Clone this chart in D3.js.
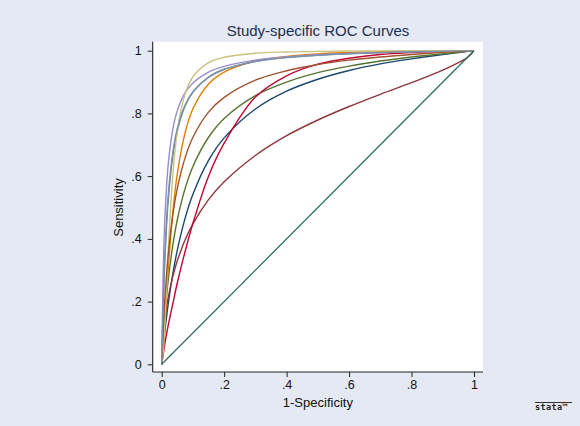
<!DOCTYPE html>
<html>
<head>
<meta charset="utf-8">
<script src="https://cdn.jsdelivr.net/npm/d3@7"></script>
<style>
  html, body { margin: 0; padding: 0; background: #e5e9f3; }
  svg { display: block; }
</style>
</head>
<body>
<svg id="chart" width="580" height="426"></svg>
<script>
// ---- data ----
const fpr = [0, 0.005, 0.01, 0.02, 0.035, 0.05, 0.075, 0.1, 0.15, 0.2, 0.3, 0.4, 0.5, 0.6, 0.7, 0.8, 0.9, 0.95, 0.98, 1];

const study1 = [0, 0.056, 0.104, 0.186, 0.285, 0.364, 0.466, 0.542, 0.650, 0.722, 0.814, 0.871, 0.909, 0.937, 0.958, 0.974, 0.988, 0.994, 0.998, 1];
const study2 = [0, 0.093, 0.141, 0.208, 0.278, 0.330, 0.397, 0.448, 0.525, 0.582, 0.666, 0.729, 0.779, 0.822, 0.861, 0.898, 0.938, 0.962, 0.979, 1];
const study3 = [0, 0.088, 0.155, 0.261, 0.376, 0.461, 0.561, 0.631, 0.724, 0.784, 0.857, 0.900, 0.930, 0.951, 0.967, 0.980, 0.990, 0.995, 0.998, 1];
const study4 = [0, 0.055, 0.133, 0.291, 0.479, 0.608, 0.739, 0.815, 0.894, 0.932, 0.967, 0.982, 0.990, 0.994, 0.997, 0.998, 0.9995, 0.9998, 0.9999, 1];
const study5 = [0, 0.184, 0.325, 0.510, 0.660, 0.745, 0.824, 0.868, 0.916, 0.941, 0.966, 0.979, 0.986, 0.991, 0.994, 0.997, 0.999, 0.9994, 0.9998, 1];
const study6 = [0, 0.032, 0.065, 0.120, 0.190, 0.260, 0.360, 0.450, 0.600, 0.705, 0.852, 0.920, 0.957, 0.976, 0.988, 0.994, 0.998, 0.999, 0.9997, 1];
const study7 = [0, 0.303, 0.461, 0.628, 0.747, 0.809, 0.866, 0.897, 0.932, 0.950, 0.970, 0.980, 0.987, 0.991, 0.994, 0.9965, 0.998, 0.9992, 0.9997, 1];
const study8 = [0, 0.040, 0.129, 0.344, 0.596, 0.743, 0.863, 0.917, 0.962, 0.979, 0.992, 0.996, 0.998, 0.999, 0.9995, 0.9998, 0.9999, 1, 1, 1];
const study9 = [0, 0.117, 0.207, 0.339, 0.472, 0.561, 0.659, 0.724, 0.804, 0.851, 0.906, 0.936, 0.956, 0.970, 0.980, 0.988, 0.9945, 0.997, 0.999, 1];
const study10 = [0, 0.205, 0.349, 0.528, 0.672, 0.752, 0.827, 0.869, 0.915, 0.940, 0.965, 0.978, 0.985, 0.990, 0.994, 0.9965, 0.9985, 0.9993, 0.9998, 1];

const studies = [study1, study2, study3, study4, study5, study6, study7, study8, study9, study10];
const chanceLine = [0, 1];

const xTickValues = [0, 0.2, 0.4, 0.6, 0.8, 1];
const xTickLabels = ["0", ".2", ".4", ".6", ".8", "1"];
const yTickValues = [0, 0.2, 0.4, 0.6, 0.8, 1];
const yTickLabels = ["0", ".2", ".4", ".6", ".8", "1"];

const titleText = "Study-specific ROC Curves";
const xTitle = "1-Specificity";
const yTitle = "Sensitivity";

// ---- styles ----
const colors = ["#1a476f", "#90353b", "#55752f", "#e37e00", "#6e8e84",
                "#c10534", "#938dd2", "#cac27e", "#a0522d", "#7b92a8"];
const chanceColor = "#2d6d66";
const font = "'Liberation Sans', Arial, Helvetica, sans-serif";

const svg = d3.select("#chart");
svg.append("rect").attr("width", 580).attr("height", 426).attr("fill", "#e5e9f3");

const x = d3.scaleLinear().domain([0, 1]).range([161.7, 474]);
const y = d3.scaleLinear().domain([0, 1]).range([364.3, 50.7]);

const plotL = 152.7, plotR = 483, plotT = 41.7, plotB = 372;

svg.append("rect")
  .attr("x", plotL).attr("y", plotT)
  .attr("width", plotR - plotL).attr("height", plotB - plotT)
  .attr("fill", "#ffffff");

// curves
const line = d3.line()
  .x(d => x(d[0]))
  .y(d => y(d[1]))
  .curve(d3.curveCatmullRom.alpha(0.5));

const gCurves = svg.append("g");
studies.forEach((s, i) => {
  gCurves.append("path")
    .datum(fpr.map((f, j) => [f, s[j]]))
    .attr("d", line)
    .attr("fill", "none")
    .attr("stroke", colors[i])
    .attr("stroke-width", 1.4);
});
gCurves.append("path")
  .datum(chanceLine.map(v => [v, v]))
  .attr("d", d3.line().x(d => x(d[0])).y(d => y(d[1])))
  .attr("fill", "none")
  .attr("stroke", chanceColor)
  .attr("stroke-width", 1.3);

// axes
const xAxis = d3.axisBottom(x)
  .tickValues(xTickValues)
  .tickFormat((d, i) => xTickLabels[i])
  .tickSize(5).tickSizeOuter(0).tickPadding(3);
const gx = svg.append("g").attr("transform", `translate(0,${plotB})`).call(xAxis);
gx.select(".domain").attr("d", `M${plotL},0H${plotR}`).attr("stroke", "#222").attr("stroke-width", 1.1);
gx.selectAll(".tick line").attr("stroke", "#222");
gx.selectAll(".tick text").attr("font-family", font).attr("font-size", 12.5).attr("fill", "#111");

const yAxis = d3.axisLeft(y)
  .tickValues(yTickValues)
  .tickFormat((d, i) => yTickLabels[i])
  .tickSize(5).tickSizeOuter(0).tickPadding(6);
const gy = svg.append("g").attr("transform", `translate(${plotL},0)`).call(yAxis);
gy.select(".domain").attr("d", `M0,${plotT}V${plotB}`).attr("stroke", "#222").attr("stroke-width", 1.1);
gy.selectAll(".tick line").attr("stroke", "#222");
gy.selectAll(".tick text").attr("font-family", font).attr("font-size", 12.5).attr("fill", "#111");

// titles
svg.append("text")
  .attr("x", 318).attr("y", 36)
  .attr("text-anchor", "middle")
  .attr("font-family", font).attr("font-size", 15)
  .attr("fill", "#1f2d50")
  .text(titleText);

svg.append("text")
  .attr("x", (x(0) + x(1)) / 2).attr("y", 407)
  .attr("text-anchor", "middle")
  .attr("font-family", font).attr("font-size", 13)
  .attr("fill", "#111")
  .text(xTitle);

svg.append("text")
  .attr("transform", `translate(123,${(y(0) + y(1)) / 2}) rotate(-90)`)
  .attr("text-anchor", "middle")
  .attr("font-family", font).attr("font-size", 13)
  .attr("fill", "#111")
  .text(yTitle);

// stata logo
svg.append("line")
  .attr("x1", 535).attr("x2", 572).attr("y1", 402.5).attr("y2", 402.5)
  .attr("stroke", "#333").attr("stroke-width", 1);
svg.append("text")
  .attr("x", 535).attr("y", 410)
  .attr("font-family", "'DejaVu Sans Mono', monospace").attr("font-size", 8.5)
  .attr("font-weight", "bold")
  .attr("letter-spacing", 0.4)
  .attr("fill", "#222")
  .text("stata\u2122");
</script>
</body>
</html>
